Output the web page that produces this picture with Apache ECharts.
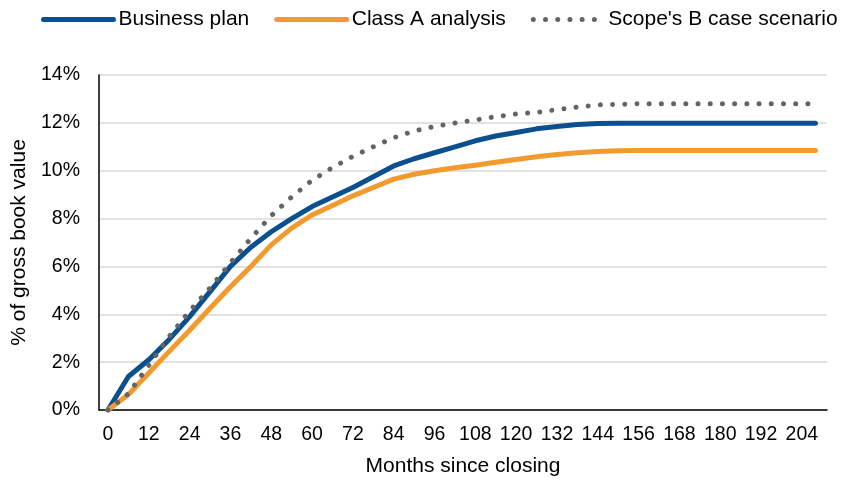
<!DOCTYPE html>
<html lang="en">
<head>
    <meta charset="UTF-8">
    <title>Cumulative curves</title>
    <script src="https://cdn.jsdelivr.net/npm/echarts@6/dist/echarts.min.js"></script>
    <style type="text/css">
        *{margin: 0;padding: 0;border: none}
        html,body{width: 100%;height: 100%;overflow: hidden;background: #fff}
        #main{width: 854px;height: 482px}
    </style>
</head>
<body>
<div id="main"></div>
<script type="text/javascript">
    // months since closing (x positions of the points)
    var months = [0, 6, 12, 18, 24, 30, 36, 42, 48, 54, 60, 66, 72, 78, 84, 90, 96, 102, 108, 114,
                  120, 126, 132, 138, 144, 150, 156, 162, 168, 174, 180, 186, 192, 198, 204, 208];
    var monthLabels = [0, 12, 24, 36, 48, 60, 72, 84, 96, 108, 120, 132, 144, 156, 168, 180, 192, 204];

    var businessPlan = [0, 1.4, 2.1, 2.95, 3.9, 4.95, 6.0, 6.8, 7.45, 8.0, 8.5, 8.9, 9.3, 9.75, 10.2, 10.5,
                        10.75, 11.0, 11.25, 11.45, 11.6, 11.75, 11.85, 11.93, 11.97, 11.98, 11.98, 11.98,
                        11.98, 11.98, 11.98, 11.98, 11.98, 11.98, 11.98, 11.98];
    var classA = [0, 0.65, 1.55, 2.45, 3.33, 4.25, 5.15, 6.0, 6.9, 7.6, 8.15, 8.55, 8.95, 9.3, 9.65, 9.85,
                  10.0, 10.12, 10.23, 10.35, 10.47, 10.58, 10.68, 10.75, 10.8, 10.83, 10.85, 10.85,
                  10.85, 10.85, 10.85, 10.85, 10.85, 10.85, 10.85, 10.85];
    var scopeB = [0, 0.68, 1.87, 3.07, 4.14, 5.1, 6.15, 7.17, 8.12, 8.9, 9.6, 10.13, 10.6, 11.0, 11.38, 11.66,
                  11.85, 11.99, 12.12, 12.26, 12.37, 12.44, 12.55, 12.66, 12.75, 12.77, 12.8, 12.8,
                  12.8, 12.8, 12.8, 12.8, 12.8, 12.8, 12.8, 12.8];

    var names = ['Business plan', 'Class A analysis', "Scope's B case scenario"];
    var colors = ['#0b4f8f', '#f29a2e', '#646464'];
    var dotted = [0.01, 12.2];

    function pairs(vals) {
        return months.map(function (m, i) { return [m, vals[i]]; });
    }

    function lineOf(i) {
        var ls = {color: colors[i], width: 5, cap: 'round', join: 'round'};
        if (i === 2) ls.type = dotted;
        return ls;
    }

    var font = 'Arial, "Liberation Sans", sans-serif';
    var myChart = echarts.init(document.getElementById('main'), null, {renderer: 'canvas'});

    var option = {
        animation: false,
        legend: {
            left: 41,
            top: 9,
            padding: 0,
            itemWidth: 70,
            itemHeight: 10,
            itemGap: 25,
            textStyle: {fontFamily: font, fontSize: 21, color: '#000'},
            data: names.map(function (n, i) {
                return {name: n, itemStyle: {opacity: 0}, lineStyle: lineOf(i)};
            })
        },
        grid: {
            left: 99,
            right: 27,
            top: 75,
            bottom: 70.5
        },
        xAxis: {
            type: 'value',
            min: -2.65,
            max: 211.4,
            name: 'Months since closing',
            nameLocation: 'middle',
            nameGap: 46,
            nameTextStyle: {fontFamily: font, fontSize: 21, color: '#000'},
            axisLine: {lineStyle: {color: '#000', width: 1.5}},
            axisTick: {show: false},
            splitLine: {show: false},
            axisLabel: {
                customValues: monthLabels,
                margin: 15,
                fontFamily: font,
                fontSize: 19.5,
                color: '#000'
            }
        },
        yAxis: {
            type: 'value',
            min: 0,
            max: 14,
            interval: 2,
            name: '% of gross book value',
            nameLocation: 'middle',
            nameGap: 62,
            nameTextStyle: {fontFamily: font, fontSize: 21, color: '#000'},
            axisLine: {show: true, onZero: false, lineStyle: {color: '#000', width: 1.5}},
            axisTick: {show: false},
            splitLine: {lineStyle: {color: '#d9d9d9', width: 1.5}},
            axisLabel: {
                formatter: '{value}%',
                margin: 19,
                fontFamily: font,
                fontSize: 19.5,
                color: '#000'
            }
        },
        series: names.map(function (n, i) {
            return {
                name: n,
                type: 'line',
                symbol: 'none',
                data: pairs([businessPlan, classA, scopeB][i]),
                itemStyle: {color: colors[i]},
                lineStyle: lineOf(i)
            };
        })
    };
    myChart.setOption(option);
</script>
</body>
</html>
